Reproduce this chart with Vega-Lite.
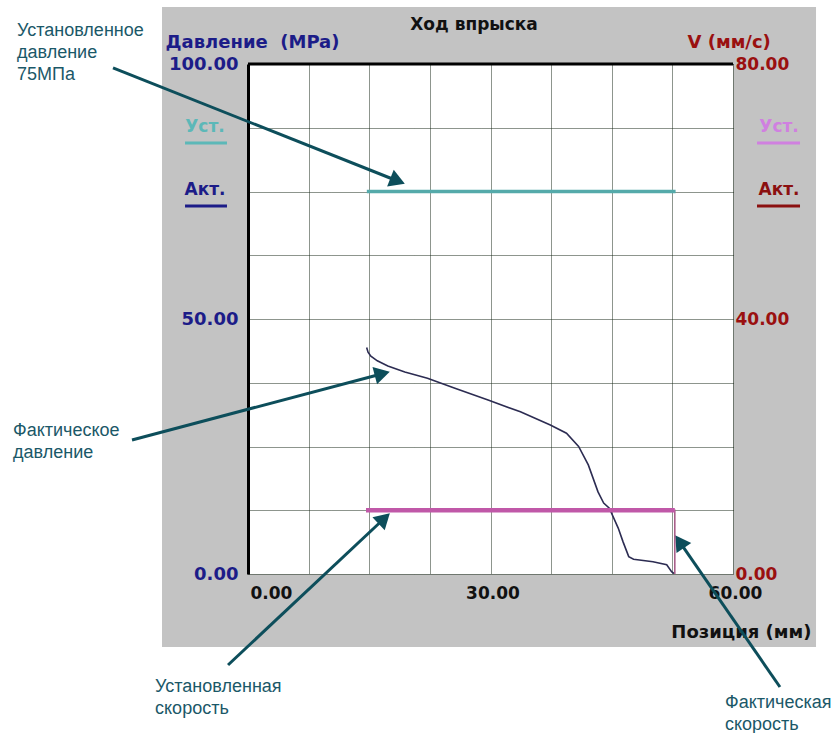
{
  "$schema": "https://vega.github.io/schema/vega-lite/v6.json",
  "width": 485,
  "height": 510,
  "autosize": {"type": "none"},
  "padding": {"left": 248, "top": 64, "right": 106, "bottom": 159},
  "background": "#c3c3c3",
  "config": {"view": {"fill": "white", "stroke": null}, "font": "DejaVu Sans"},
  "data": {"values": [{}]},
  "datasets": {
    "setPressure": [{"pos": 14.7, "mpa": 75}, {"pos": 52.9, "mpa": 75}],
    "actPressure": [
      {"pos": 14.68, "mpa": 44.4}, {"pos": 14.85, "mpa": 43.5}, {"pos": 15.2, "mpa": 42.7}, {"pos": 16.0, "mpa": 41.8},
      {"pos": 17.3, "mpa": 40.8}, {"pos": 19.4, "mpa": 39.6}, {"pos": 22.2, "mpa": 38.4}, {"pos": 25.6, "mpa": 36.4},
      {"pos": 29.7, "mpa": 34.1}, {"pos": 33.7, "mpa": 31.8}, {"pos": 37.4, "mpa": 29.2}, {"pos": 39.4, "mpa": 27.6},
      {"pos": 40.9, "mpa": 25.0}, {"pos": 42.1, "mpa": 21.4}, {"pos": 43.3, "mpa": 16.1}, {"pos": 44.0, "mpa": 13.9},
      {"pos": 44.7, "mpa": 12.9}, {"pos": 45.8, "mpa": 9.0}, {"pos": 46.4, "mpa": 6.3}, {"pos": 47.1, "mpa": 3.4},
      {"pos": 47.7, "mpa": 2.9}, {"pos": 50.1, "mpa": 2.4}, {"pos": 51.8, "mpa": 1.8}, {"pos": 52.4, "mpa": 0.45},
      {"pos": 52.7, "mpa": 0.1}
    ],
    "setVelocity": [{"pos": 14.6, "mms": 10}, {"pos": 52.8, "mms": 10}],
    "actVelocity": [{"pos": 14.6, "mms": 10}, {"pos": 52.8, "mms": 10}, {"pos": 52.8, "mms": 0}]
  },
  "layer": [
    {
      "layer": [
        {
          "mark": {"type": "rect", "color": "white"},
          "encoding": {"x": {"datum": -32, "type": "quantitative"}, "x2": {"datum": 75}, "y": {"datum": 111.18, "type": "quantitative"}, "y2": {"datum": 115}}
        },
        {
          "mark": {"type": "rect", "color": "white"},
          "encoding": {"x": {"datum": -32, "type": "quantitative"}, "x2": {"datum": 75}, "y": {"datum": -33, "type": "quantitative"}, "y2": {"datum": -14.31}}
        },
        {
          "mark": {"type": "rect", "color": "white"},
          "encoding": {"x": {"datum": -32, "type": "quantitative"}, "x2": {"datum": -10.64}, "y": {"datum": -14.31, "type": "quantitative"}, "y2": {"datum": 111.18}}
        },
        {
          "mark": {"type": "rect", "color": "white"},
          "encoding": {"x": {"datum": 70.27, "type": "quantitative"}, "x2": {"datum": 75}, "y": {"datum": -14.31, "type": "quantitative"}, "y2": {"datum": 111.18}}
        },
        {
          "data": {"name": "setPressure"},
          "mark": {"type": "line", "color": "#55aaaa", "strokeWidth": 3.5},
          "encoding": {
            "x": {
              "field": "pos", "type": "quantitative",
              "scale": {"domain": [0, 60], "nice": false, "zero": false},
              "axis": {
                "values": [0, 7.5, 15, 22.5, 30, 37.5, 45, 52.5, 60],
                "labelExpr": "datum.value % 30 === 0 ? format(datum.value, '.2f') : ''",
                "grid": true, "gridColor": "#1a2a1a", "gridDash": [1, 1], "gridWidth": 1, "gridOpacity": 1,
                "ticks": false, "domain": false,
                "labelFont": "DejaVu Sans", "labelFontWeight": "bold", "labelFontSize": 17, "labelColor": "#111111",
                "labelPadding": 11, "labelOverlap": false, "labelOffset": 2,
                "labelAlign": {"condition": {"test": "datum.value === 0", "value": "left"}, "value": "center"},
                "title": "Позиция (мм)", "titleFont": "DejaVu Sans", "titleFontWeight": "bold", "titleFontSize": 18, "titleColor": "#111111",
                "titleX": 563, "titleY": 58, "titleAlign": "right", "titleBaseline": "middle"
              }
            },
            "y": {
              "field": "mpa", "type": "quantitative",
              "scale": {"domain": [0, 100], "nice": false, "zero": false},
              "axis": {
                "values": [0, 12.5, 25, 37.5, 50, 62.5, 75, 87.5, 100],
                "labelExpr": "datum.value % 50 === 0 ? format(datum.value, '.2f') : ''",
                "grid": true, "gridColor": "#1a2a1a", "gridDash": [1, 1], "gridWidth": 1, "gridOpacity": 1,
                "ticks": false, "domain": true, "domainColor": "#000000", "domainWidth": 3,
                "labelFont": "DejaVu Sans", "labelFontWeight": "bold", "labelFontSize": 18, "labelColor": "#1c1c88",
                "labelPadding": 10, "labelOverlap": false,
                "title": "Давление\u00a0 (MPa)", "titleAngle": 0, "titleAlign": "left", "titleBaseline": "middle",
                "titleX": -83, "titleY": -22, "titleColor": "#1c1c88", "titleFont": "DejaVu Sans", "titleFontWeight": "bold", "titleFontSize": 18
              }
            }
          }
        },
        {
          "data": {"name": "actPressure"},
          "mark": {"type": "line", "color": "#2c2c52", "strokeWidth": 1.6},
          "encoding": {"x": {"field": "pos", "type": "quantitative"}, "y": {"field": "mpa", "type": "quantitative"}}
        },
        {
          "mark": {"type": "rule", "color": "#000000", "strokeWidth": 3},
          "encoding": {"x": {"datum": 0, "type": "quantitative"}, "x2": {"datum": 60}, "y": {"datum": 100, "type": "quantitative"}}
        },
        {
          "mark": {"type": "text", "text": "Ход впрыска", "font": "DejaVu Sans", "fontWeight": "bold", "fontSize": 17, "color": "#111111", "align": "center", "baseline": "middle"},
          "encoding": {"x": {"datum": 27.96, "type": "quantitative"}, "y": {"datum": 107.65, "type": "quantitative"}}
        },
        {
          "mark": {"type": "text", "text": "Уст.", "font": "DejaVu Sans", "fontWeight": "bold", "fontSize": 17, "color": "#5cb8b8", "align": "center", "baseline": "middle"},
          "encoding": {"x": {"datum": -5.32, "type": "quantitative"}, "y": {"datum": 87.65, "type": "quantitative"}}
        },
        {
          "mark": {"type": "text", "text": "Акт.", "font": "DejaVu Sans", "fontWeight": "bold", "fontSize": 17, "color": "#1c1c88", "align": "center", "baseline": "middle"},
          "encoding": {"x": {"datum": -5.32, "type": "quantitative"}, "y": {"datum": 75.3, "type": "quantitative"}}
        },
        {
          "mark": {"type": "text", "text": "Уст.", "font": "DejaVu Sans", "fontWeight": "bold", "fontSize": 17, "color": "#d080e0", "align": "center", "baseline": "middle"},
          "encoding": {"x": {"datum": 65.7, "type": "quantitative"}, "y": {"datum": 87.65, "type": "quantitative"}}
        },
        {
          "mark": {"type": "text", "text": "Акт.", "font": "DejaVu Sans", "fontWeight": "bold", "fontSize": 17, "color": "#8b1010", "align": "center", "baseline": "middle"},
          "encoding": {"x": {"datum": 65.7, "type": "quantitative"}, "y": {"datum": 75.3, "type": "quantitative"}}
        },
        {
          "mark": {"type": "rule", "color": "#5cb8b8", "strokeWidth": 3},
          "encoding": {"x": {"datum": -7.79, "type": "quantitative"}, "x2": {"datum": -2.6}, "y": {"datum": 84.5, "type": "quantitative"}}
        },
        {
          "mark": {"type": "rule", "color": "#1c1c88", "strokeWidth": 3},
          "encoding": {"x": {"datum": -7.79, "type": "quantitative"}, "x2": {"datum": -2.6}, "y": {"datum": 72.16, "type": "quantitative"}}
        },
        {
          "mark": {"type": "rule", "color": "#d080e0", "strokeWidth": 3},
          "encoding": {"x": {"datum": 62.97, "type": "quantitative"}, "x2": {"datum": 68.29}, "y": {"datum": 84.5, "type": "quantitative"}}
        },
        {
          "mark": {"type": "rule", "color": "#8b1010", "strokeWidth": 3},
          "encoding": {"x": {"datum": 62.97, "type": "quantitative"}, "x2": {"datum": 68.29}, "y": {"datum": 72.16, "type": "quantitative"}}
        },
        {
          "mark": {"type": "rule", "color": "#0d4e5b", "strokeWidth": 3},
          "encoding": {"x": {"datum": -16.7, "type": "quantitative"}, "x2": {"datum": 18.51}, "y": {"datum": 99.22, "type": "quantitative"}, "y2": {"datum": 77.06}}
        },
        {
          "mark": {"type": "rule", "color": "#0d4e5b", "strokeWidth": 3},
          "encoding": {"x": {"datum": -14.35, "type": "quantitative"}, "x2": {"datum": 16.61}, "y": {"datum": 26.27, "type": "quantitative"}, "y2": {"datum": 39.27}}
        },
        {
          "mark": {"type": "rule", "color": "#0d4e5b", "strokeWidth": 3},
          "encoding": {"x": {"datum": -2.47, "type": "quantitative"}, "x2": {"datum": 16.85}, "y": {"datum": -17.84, "type": "quantitative"}, "y2": {"datum": 10.88}}
        },
        {
          "mark": {"type": "rule", "color": "#0d4e5b", "strokeWidth": 3},
          "encoding": {"x": {"datum": 65.81, "type": "quantitative"}, "x2": {"datum": 53.38}, "y": {"datum": -22.16, "type": "quantitative"}, "y2": {"datum": 6.35}}
        },
        {
          "mark": {"type": "point", "shape": "triangle-up", "filled": true, "opacity": 1, "color": "#0d4e5b", "size": 320, "angle": 111.7},
          "encoding": {"x": {"datum": 18.51, "type": "quantitative"}, "y": {"datum": 77.06, "type": "quantitative"}}
        },
        {
          "mark": {"type": "point", "shape": "triangle-up", "filled": true, "opacity": 1, "color": "#0d4e5b", "size": 320, "angle": 75.2},
          "encoding": {"x": {"datum": 16.61, "type": "quantitative"}, "y": {"datum": 39.27, "type": "quantitative"}}
        },
        {
          "mark": {"type": "point", "shape": "triangle-up", "filled": true, "opacity": 1, "color": "#0d4e5b", "size": 320, "angle": 46.8},
          "encoding": {"x": {"datum": 16.85, "type": "quantitative"}, "y": {"datum": 10.88, "type": "quantitative"}}
        },
        {
          "mark": {"type": "point", "shape": "triangle-up", "filled": true, "opacity": 1, "color": "#0d4e5b", "size": 320, "angle": 325.4},
          "encoding": {"x": {"datum": 53.38, "type": "quantitative"}, "y": {"datum": 6.35, "type": "quantitative"}}
        },
        {
          "mark": {"type": "text", "text": ["Установленное", "давление", "75МПа"], "font": "Liberation Sans", "fontSize": 18, "lineHeight": 22, "color": "#1b5868", "align": "left", "baseline": "alphabetic"},
          "encoding": {"x": {"datum": -28.58, "type": "quantitative"}, "y": {"datum": 105.5, "type": "quantitative"}}
        },
        {
          "mark": {"type": "text", "text": ["Фактическое", "давление"], "font": "Liberation Sans", "fontSize": 18, "lineHeight": 22, "color": "#1b5868", "align": "left", "baseline": "alphabetic"},
          "encoding": {"x": {"datum": -29.07, "type": "quantitative"}, "y": {"datum": 27.06, "type": "quantitative"}}
        },
        {
          "mark": {"type": "text", "text": ["Установленная", "скорость"], "font": "Liberation Sans", "fontSize": 18, "lineHeight": 22, "color": "#1b5868", "align": "left", "baseline": "alphabetic"},
          "encoding": {"x": {"datum": -11.5, "type": "quantitative"}, "y": {"datum": -23.2, "type": "quantitative"}}
        },
        {
          "mark": {"type": "text", "text": ["Фактическая", "скорость"], "font": "Liberation Sans", "fontSize": 18, "lineHeight": 22, "color": "#1b5868", "align": "left", "baseline": "alphabetic"},
          "encoding": {"x": {"datum": 59.01, "type": "quantitative"}, "y": {"datum": -26.2, "type": "quantitative"}}
        }
      ]
    },
    {
      "layer": [
        {
          "data": {"name": "actVelocity"},
          "mark": {"type": "line", "color": "#a8608a", "strokeWidth": 1.6},
          "encoding": {
            "x": {"field": "pos", "type": "quantitative"},
            "y": {
              "field": "mms", "type": "quantitative",
              "scale": {"domain": [0, 80], "nice": false, "zero": false},
              "axis": {
                "orient": "right", "values": [0, 40, 80], "format": ".2f",
                "grid": false, "ticks": false, "domain": false,
                "labelColor": "#9a1010", "labelFont": "DejaVu Sans", "labelFontWeight": "bold", "labelFontSize": 17, "labelPadding": 2,
                "title": "V (мм/с)", "titleAngle": 0, "titleAlign": "left", "titleBaseline": "middle",
                "titleX": -46, "titleY": -22, "titleColor": "#9a1010", "titleFont": "DejaVu Sans", "titleFontWeight": "bold", "titleFontSize": 18
              }
            }
          }
        },
        {
          "data": {"name": "setVelocity"},
          "mark": {"type": "line", "color": "#c058a8", "strokeWidth": 4.5},
          "encoding": {"x": {"field": "pos", "type": "quantitative"}, "y": {"field": "mms", "type": "quantitative"}}
        }
      ]
    }
  ],
  "resolve": {"scale": {"y": "independent"}}
}
